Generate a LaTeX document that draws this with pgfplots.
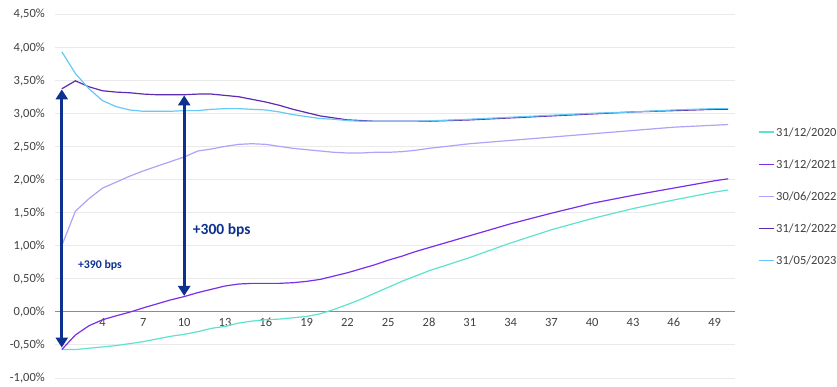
\documentclass[border=0pt]{standalone}
\usepackage{fontspec}
\setmainfont{Carlito}
\usepackage{pgfplots}
\usepackage{pgfplotstable}
\pgfplotsset{compat=1.18}
\usetikzlibrary{arrows.meta}

\definecolor{c2020}{HTML}{5DE2CE}
\definecolor{c2021}{HTML}{7A2EEB}
\definecolor{c2206}{HTML}{B4A0F8}
\definecolor{c2212}{HTML}{5B2BB0}
\definecolor{c2305}{HTML}{66C8F8}
\definecolor{navy}{HTML}{0D318F}
\definecolor{gridgray}{HTML}{EAEAEA}
\definecolor{axisgray}{HTML}{8C8C8C}
\definecolor{labelgray}{HTML}{404040}

\newcommand\lblfont{\fontsize{12.5bp}{15bp}\selectfont}

% Yield curves (%) by maturity in years
\pgfplotstableread{
n   y2020  y2021  y2206  y2212  y2305
1   -0.57  -0.57  1.00   3.37   3.93
2   -0.57  -0.35  1.52   3.49   3.60
3   -0.55  -0.21  1.71   3.40   3.37
4   -0.53  -0.12  1.87   3.34   3.19
5   -0.51  -0.06  1.96   3.32   3.10
6   -0.48  -0.005 2.05   3.31   3.05
7   -0.45   0.06  2.13   3.29   3.03
8   -0.41   0.12  2.20   3.28   3.03
9   -0.37   0.18  2.27   3.28   3.03
10  -0.34   0.23  2.34   3.28   3.04
11  -0.30   0.29  2.43   3.29   3.04
12  -0.25   0.34  2.46   3.29   3.06
13  -0.22   0.39  2.50   3.27   3.07
14  -0.17   0.42  2.53   3.25   3.07
15  -0.14   0.43  2.54   3.21   3.06
16  -0.12   0.43  2.53   3.17   3.05
17  -0.11   0.43  2.50   3.12   3.02
18  -0.09   0.44  2.47   3.06   2.98
19  -0.07   0.46  2.45   3.01   2.95
20  -0.03   0.49  2.43   2.96   2.92
21   0.035  0.54  2.41   2.93   2.91
22   0.11   0.59  2.40   2.90   2.89
23   0.19   0.65  2.40   2.89   2.88
24   0.28   0.71  2.41   2.88   2.88
25   0.37   0.78  2.41   2.88   2.88
26   0.46   0.84  2.42   2.88   2.88
27   0.54   0.91  2.44   2.88   2.88
28   0.62   0.97  2.47   2.88   2.885
31   0.82   1.15  2.54   2.90   2.91
34   1.04   1.33  2.59   2.93   2.94
37   1.24   1.49  2.64   2.96   2.97
40   1.41   1.64  2.69   2.99   3.00
43   1.56   1.76  2.74   3.02   3.02
46   1.69   1.87  2.79   3.04   3.05
49   1.81   1.98  2.82   3.06   3.07
50   1.84   2.01  2.83   3.06   3.07
}\curves

\begin{document}
\begin{tikzpicture}
\path[use as bounding box] (0,0) rectangle (837bp,387bp);
\begin{axis}[
  at={(55bp,9bp)}, anchor=south west,
  scale only axis, width=680bp, height=364bp,
  xmin=0.5, xmax=50.5, ymin=-1, ymax=4.5,
  axis line style={draw=none},
  major tick length=0pt,
  tick style={draw=none},
  ymajorgrids, grid style={color=gridgray, line width=0.9bp},
  ytick={-1,-0.5,0,0.5,1,1.5,2,2.5,3,3.5,4,4.5},
  yticklabels={{-1,00\%},{-0,50\%},{0,00\%},{0,50\%},{1,00\%},{1,50\%},{2,00\%},{2,50\%},{3,00\%},{3,50\%},{4,00\%},{4,50\%}},
  xtick={4,7,10,13,16,19,22,25,28,31,34,37,40,43,46,49},
  xticklabels={4,7,10,13,16,19,22,25,28,31,34,37,40,43,46,49},
  /pgf/number format/assume math mode=true,
  yticklabel style={anchor=base east, inner sep=0pt, xshift=-10bp, yshift=-4bp, font=\lblfont, text=labelgray},
  xticklabel style={anchor=base, inner sep=0pt, yshift=51bp, font=\lblfont, text=labelgray},
  legend style={at={(axis description cs:1.0338,0.6868)}, anchor=north west,
    draw=none, fill=none, inner sep=0pt, outer sep=0pt,
    row sep=24.2bp, column sep=2bp, font=\lblfont, text=labelgray,
    nodes={inner sep=0pt, text height=8bp, text depth=0pt, anchor=base west}},
  legend cell align=left,
  legend image code/.code={\draw[#1, line width=1.2bp] (0bp,4bp) -- (15bp,4bp);},
  clip=false,
]
\draw[axisgray, line width=0.9bp] (axis cs:0.5,0) -- (axis cs:50.5,0);
\addplot[c2020, line width=1.2bp] table[x=n, y=y2020] {\curves};
\addlegendentry{31/12/2020}
\addplot[c2021, line width=1.2bp] table[x=n, y=y2021] {\curves};
\addlegendentry{31/12/2021}
\addplot[c2206, line width=1.2bp] table[x=n, y=y2206] {\curves};
\addlegendentry{30/06/2022}
\addplot[c2212, line width=1.2bp] table[x=n, y=y2212] {\curves};
\addlegendentry{31/12/2022}
\addplot[c2305, line width=1.2bp] table[x=n, y=y2305] {\curves};
\addlegendentry{31/05/2023}

% spread annotations
\draw[navy, line width=3.3bp, {Triangle[width=12bp,length=10bp]}-{Triangle[width=12bp,length=10bp]}]
  (axis cs:1,3.36) -- (axis cs:1,-0.54);
\draw[navy, line width=3.3bp, {Triangle[width=12bp,length=10bp]}-{Triangle[width=12bp,length=10bp]}]
  (axis cs:10,3.27) -- (axis cs:10,0.24);
\node[anchor=base west, inner sep=0pt, text=navy, font=\fontsize{11.8bp}{14bp}\selectfont\bfseries]
  at (axis cs:2.18,0.657) {+390 bps};
\node[anchor=base west, inner sep=0pt, text=navy, font=\fontsize{15.5bp}{18bp}\selectfont\bfseries]
  at (axis cs:10.63,1.17) {+300 bps};
\end{axis}
\end{tikzpicture}
\end{document}
